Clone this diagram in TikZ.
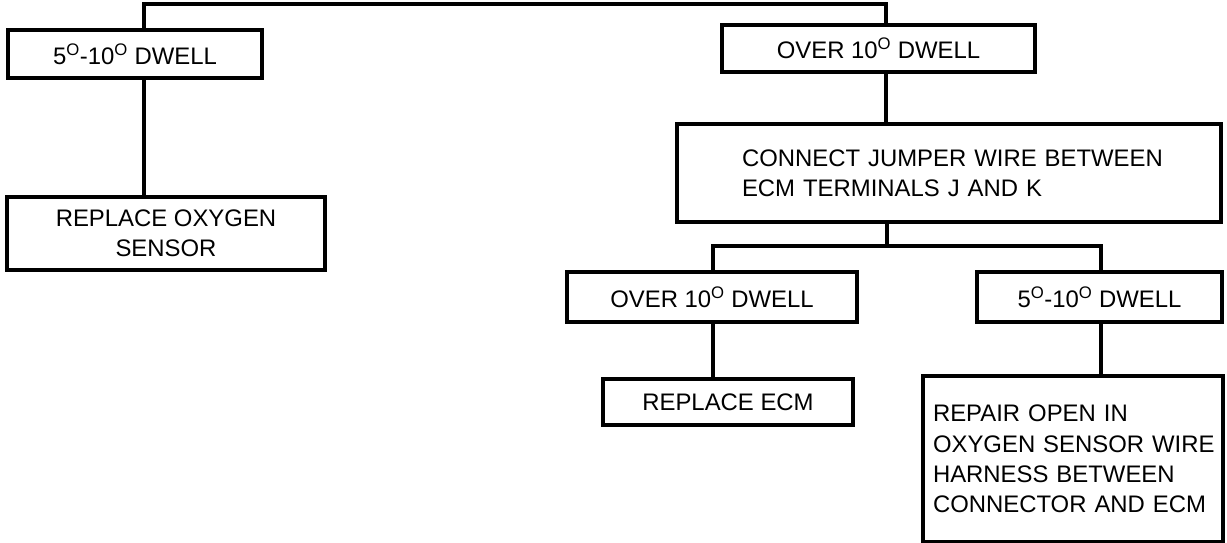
\documentclass[tikz,border=0pt]{standalone}
\usepackage{fontspec}
\newfontfamily\dfont{Liberation Sans}
\begin{document}
\begin{tikzpicture}[x=1pt,y=-1pt,
  box/.style={draw,line width=4.2pt,inner sep=0pt,align=center,
    font=\dfont\fontsize{23.9}{30.3}\selectfont},
  conn/.style={line width=3.6pt}]
\useasboundingbox (0,0) rectangle (1227,543);
\node[box,minimum width=254pt,minimum height=48pt] (A) at (135,54)
  {5\textsuperscript{O}-10\textsuperscript{O} DWELL};
\node[box,minimum width=318pt,minimum height=73pt] (B) at (166,233.5)
  {REPLACE OXYGEN\\SENSOR};
\node[box,minimum width=313pt,minimum height=47pt] (C) at (878.5,48.5)
  {OVER 10\textsuperscript{O} DWELL};
\node[box,minimum width=544pt,minimum height=98pt,align=left,
  text width=414pt,inner xsep=65pt] (D) at (949,173)
  {\mbox{CONNECT JUMPER WIRE BETWEEN}\\\mbox{ECM TERMINALS J AND K}};
\node[box,minimum width=290pt,minimum height=50pt] (E) at (712,297)
  {OVER 10\textsuperscript{O} DWELL};
\node[box,minimum width=245pt,minimum height=50pt] (F) at (1099.5,297)
  {5\textsuperscript{O}-10\textsuperscript{O} DWELL};
\node[box,minimum width=250pt,minimum height=46pt] (G) at (728,402)
  {REPLACE ECM};
\node[box,minimum width=300pt,minimum height=166pt,align=left,
  text width=280pt,inner xsep=10pt] (H) at (1073,459)
  {\mbox{REPAIR OPEN IN}\\\mbox{OXYGEN SENSOR WIRE}\\\mbox{HARNESS BETWEEN}\\\mbox{CONNECTOR AND ECM}};
\coordinate (tl) at (144,4);
\coordinate (tr) at (886,4);
\coordinate (j) at (887,246);
\coordinate (jl) at (713,246);
\coordinate (jr) at (1101,246);
\draw[conn] (A.north -| tl) -- (tl) -- (tr) -- (C.north -| tr);
\draw[conn] (A.south -| tl) -- (B.north -| tl);
\draw[conn] (C.south -| tr) -- (D.north -| tr);
\draw[conn] (D.south -| j) -- (j);
\draw[conn] (E.north -| jl) -- (jl) -- (jr) -- (F.north -| jr);
\draw[conn] (E.south -| jl) -- (G.north -| jl);
\draw[conn] (F.south -| jr) -- (H.north -| jr);
\end{tikzpicture}
\end{document}
